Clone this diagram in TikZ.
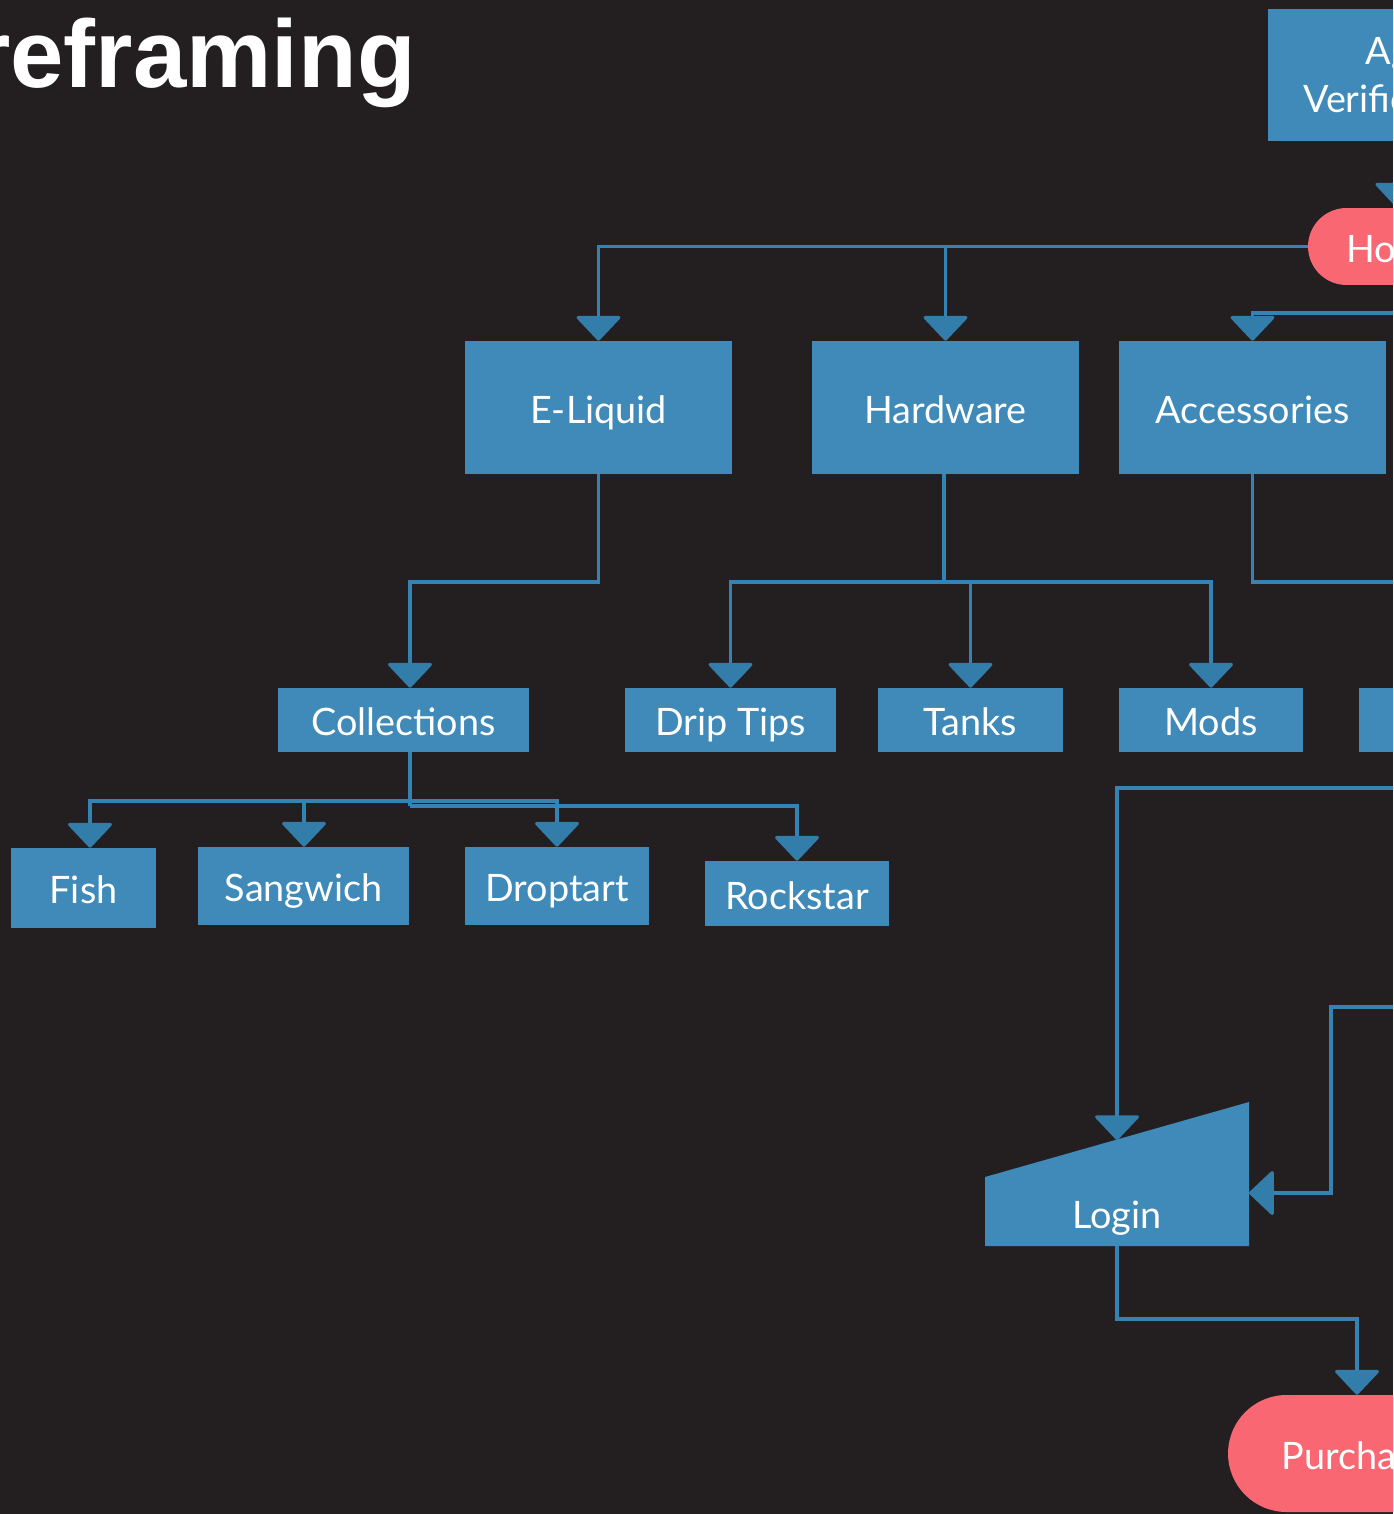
\documentclass[tikz,border=0pt]{standalone}
\usepackage{fontspec}
\setmainfont{Lato}
\newfontfamily\titlefont{Liberation Sans}
\usetikzlibrary{arrows.meta,calc}
\definecolor{bg}{HTML}{231F20}
\definecolor{boxblue}{HTML}{3F8AB8}
\definecolor{lineblue}{HTML}{3583B3}
\definecolor{tipblue}{HTML}{327DAA}
\definecolor{pillred}{HTML}{F96872}
\begin{document}
\begin{tikzpicture}[x=0.02cm,y=-0.02cm,
  lbl/.style={text=white,font=\fontsize{21.5}{27}\selectfont},
  box/.style={fill=boxblue,inner sep=0pt,lbl,align=center,text height=17.7pt,text depth=0pt},
  pillbox/.style={fill=pillred,inner sep=0pt,lbl,align=center,text height=17.7pt,text depth=0pt},
  conn/.style={draw=lineblue,line width=1.8pt},
  arr/.style={conn,-{Triangle[width=27pt,length=14.5pt,color=tipblue,round]}}]
\clip (0,0) rectangle (1393,1514);
\fill[bg] (0,0) rectangle (1393,1514);

\node[anchor=base east,text=white,inner sep=0pt,font=\titlefont\bfseries\fontsize{54.6}{60}\selectfont] (title) at (416,88) {reframing};

% top level
\node[fill=boxblue,inner sep=0pt,lbl,align=center,minimum width=5.2cm,minimum height=2.66cm] (agev) at (1398,75) {Age\\Verification};
\node[pillbox,minimum width=3.56cm,minimum height=1.54cm,rounded corners=0.77cm] (home) at (1397,246.5) {Home};

% categories
\node[box,minimum width=5.34cm,minimum height=2.66cm] (eliquid) at (598.5,407.5) {E-Liquid};
\node[box,minimum width=5.34cm,minimum height=2.66cm] (hardware) at (945.5,407.5) {Hardware};
\node[box,minimum width=5.34cm,minimum height=2.66cm] (accessories) at (1252.5,407.5) {Accessories};

% second level
\node[box,minimum width=5.02cm,minimum height=1.28cm] (collections) at (403.5,720) {Collections};
\node[box,minimum width=4.22cm,minimum height=1.28cm] (driptips) at (730.5,720) {Drip Tips};
\node[box,minimum width=3.7cm,minimum height=1.28cm] (tanks) at (970.5,720) {Tanks};
\node[box,minimum width=3.68cm,minimum height=1.28cm] (mods) at (1211,720) {Mods};
\node[box,minimum width=3.68cm,minimum height=1.28cm] (hidden) at (1451,720) {};

% third level
\node[box,minimum width=2.9cm,minimum height=1.6cm] (fish) at (83.5,888) {Fish};
\node[box,minimum width=4.22cm,minimum height=1.56cm] (sangwich) at (303.5,886) {Sangwich};
\node[box,minimum width=3.68cm,minimum height=1.56cm] (droptart) at (557,886) {Droptart};
\node[box,minimum width=3.68cm,minimum height=1.3cm] (rockstar) at (797,893.5) {Rockstar};

% login (manual input shape)
\fill[boxblue] (985,1177) -- (1249,1102) -- (1249,1246) -- (985,1246) -- cycle;
\node[inner sep=0pt,minimum width=5.28cm,minimum height=2.88cm] (login) at (1117,1174) {};
\node[lbl,inner sep=0pt,text height=17.7pt,text depth=0pt] (logintext) at (1117,1213) {Login};

% purchase
\node[pillbox,minimum width=5.16cm,minimum height=2.34cm,rounded corners=1.17cm] (purchase) at (1357,1453.5) {Purchase};

% coordinates
\coordinate (accin) at (1420,313);
\coordinate (eq) at (410,582);
\coordinate (hj) at (944,582);
\coordinate (accout) at (1420,582);
\coordinate (r788) at (1420,788);
\coordinate (loginin) at (1117,1140);
\coordinate (cj) at (410,801);
\coordinate (cj2) at (410,806);
\coordinate (xfish) at (90,801);
\coordinate (xsang) at (304,801);
\coordinate (xdrop) at (557,801);
\coordinate (xrock) at (797,806);
\coordinate (r1007) at (1420,1007);
\coordinate (bend) at (1331,1193);
\coordinate (loginright) at (1249,1193);
\coordinate (lbend) at (1117,1319);

% connectors
\draw[arr] (agev) -- (home);
\draw[arr] (home.west) -| (eliquid.north);
\draw[arr] (home.west -| hardware.north) -- (hardware.north);
\draw[arr] (accin) -| (accessories.north);
\draw[arr] (eliquid.south) |- (eq) -- (collections.north -| eq);
\draw[conn] (hardware.south -| hj) -- (hj);
\draw[arr] (hj) -| (driptips.north);
\draw[arr] (hj) -| (tanks.north);
\draw[arr] (hj) -| (mods.north);
\draw[conn] (accessories.south) |- (accout);
\draw[arr] (r788) -| (loginin);
\draw[conn] (collections.south -| cj) -- (cj2);
\draw[arr] (cj) -| (fish.north -| xfish);
\draw[arr] (cj) -| (sangwich.north -| xsang);
\draw[arr] (cj) -| (droptart.north -| xdrop);
\draw[arr] (cj2) -| (rockstar.north -| xrock);
\draw[arr] (r1007) -| (bend) -- (loginright);
\draw[arr] (login.south) -- (lbend) -| (purchase.north);
\end{tikzpicture}
\end{document}
